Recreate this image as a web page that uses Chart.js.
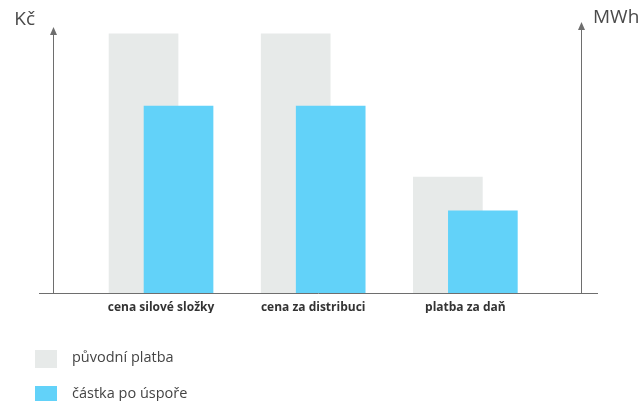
<!DOCTYPE html>
<html>
<head>
<meta charset="utf-8">
<script src="https://cdn.jsdelivr.net/npm/chart.js@4"></script>
<style>
  html, body { margin: 0; padding: 0; background: #fff; }
  #wrap { width: 642px; height: 401px; position: relative; }
</style>
</head>
<body>
<div id="wrap"><canvas id="chart"></canvas></div>
<script>
const categories = ['cena silové složky', 'cena za distribuci', 'platba za daň'];
const puvodni = [95.6, 95.6, 42.8];
const poUspore = [69.0, 69.0, 30.3];
const seriesNames = ['původní platba', 'částka po úspoře'];
const axisUnits = ['Kč', 'MWh'];

const GREY = '#e7eae9';
const BLUE = '#62d2f9';
const AXIS = '#6e6e6e';
const FONT = '"Open Sans", "Noto Sans", sans-serif';

// bars of a pair overlap by half their width
const shift = 0.115;

const axesPlugin = {
  id: 'axes',
  afterDatasetsDraw(chart) {
    const { ctx, chartArea: a, scales } = chart;
    const y0 = scales.y.getPixelForValue(0);
    ctx.save();
    ctx.strokeStyle = AXIS;
    ctx.fillStyle = AXIS;
    ctx.lineWidth = 1;
    // baseline
    ctx.beginPath();
    ctx.moveTo(a.left - 14, y0 + 0.5);
    ctx.lineTo(a.right + 17, y0 + 0.5);
    ctx.stroke();
    // vertical axes with arrows
    [[a.left, a.top + 5], [a.right, a.top]].forEach(([x, top]) => {
      ctx.beginPath();
      ctx.moveTo(x + 0.5, y0);
      ctx.lineTo(x + 0.5, top + 6);
      ctx.stroke();
      ctx.beginPath();
      ctx.moveTo(x + 0.5, top);
      ctx.lineTo(x - 3, top + 8);
      ctx.lineTo(x + 4, top + 8);
      ctx.closePath();
      ctx.fill();
    });
    // unit labels
    ctx.fillStyle = '#4a4a4a';
    ctx.font = '19px ' + FONT;
    ctx.textBaseline = 'middle';
    ctx.textAlign = 'right';
    ctx.fillText(axisUnits[0], a.left - 18, a.top - 2);
    ctx.textAlign = 'left';
    ctx.fillText(axisUnits[1], a.right + 12, a.top - 4);

    // legend
    ctx.font = '14.5px ' + FONT;
    chart.data.datasets.forEach((ds, i) => {
      const y = 350 + i * 36;
      ctx.fillStyle = ds.backgroundColor;
      ctx.fillRect(35, y, 22, 18);
      ctx.fillStyle = '#444';
      ctx.fillText(ds.label, 72, y + 8);
    });
    ctx.restore();
  }
};

new Chart(document.getElementById('chart'), {
  type: 'bar',
  data: {
    datasets: [
      { label: seriesNames[0], order: 1, data: puvodni.map((v, i) => ({ x: i + 1 - shift, y: v })), backgroundColor: GREY },
      { label: seriesNames[1], order: 0, data: poUspore.map((v, i) => ({ x: i + 1 + shift, y: v })), backgroundColor: BLUE }
    ]
  },
  options: {
    responsive: true,
    maintainAspectRatio: false,
    animation: false,
    layout: { padding: { left: 53, right: 61, top: 22, bottom: 88 } },
    datasets: { bar: { grouped: false, barThickness: 69 } },
    plugins: { legend: { display: false }, tooltip: { enabled: false } },
    scales: {
      x: {
        type: 'linear',
        offset: false,
        min: 0.29,
        max: 3.76,
        grid: { display: false, drawTicks: false },
        border: { display: false },
        afterBuildTicks: s => { s.ticks = categories.map((c, i) => ({ value: i + 1 })); },
        afterFit: s => { s.height = 20; },
        ticks: {
          padding: 7,
          maxRotation: 0,
          autoSkip: false,
          color: '#333',
          font: { family: FONT, size: 12, weight: 'bold' },
          callback: (v) => categories[Math.round(v) - 1]
        }
      },
      y: { display: false, min: 0, max: 100 }
    }
  },
  plugins: [axesPlugin]
});
</script>
</body>
</html>
